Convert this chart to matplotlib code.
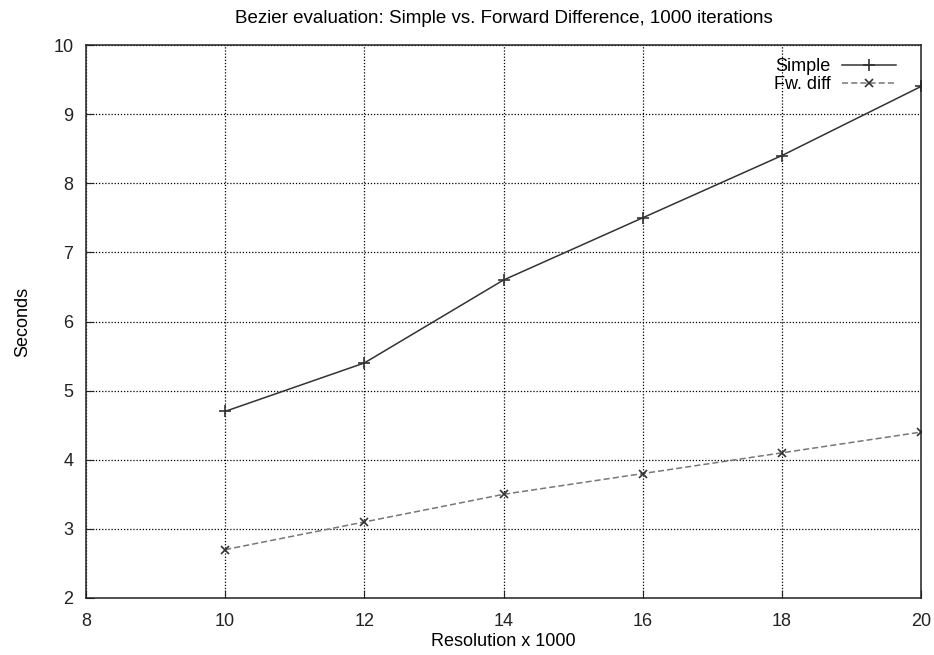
import matplotlib
matplotlib.use("Agg")
import matplotlib.pyplot as plt

plt.rcParams['font.family'] = ['Liberation Sans', 'DejaVu Sans']

resolution = [10, 12, 14, 16, 18, 20]
simple = [4.7, 5.4, 6.6, 7.5, 8.4, 9.4]
fwdiff = [2.7, 3.1, 3.5, 3.8, 4.1, 4.4]

fig = plt.figure(figsize=(9.34, 6.55), dpi=100)
ax = fig.add_axes([86 / 934, 57 / 655, 835 / 934, 553 / 655])

ax.plot(resolution, simple, color="#333333", linewidth=1.1, marker="+",
        markersize=9, markeredgewidth=1.2, label="Simple")
ax.plot(resolution, fwdiff, color="#777777", linewidth=1.1, linestyle=(0, (4, 2)),
        marker="x", markersize=6, markeredgewidth=1.2, markeredgecolor="#333333",
        label="Fw. diff")

ax.set_xlim(8, 20)
ax.set_ylim(2, 10)
ax.set_xticks(range(8, 21, 2))
ax.set_yticks(range(2, 11))
ax.grid(True, color="black", linestyle=(0, (1, 1.5)), linewidth=0.9)
ax.tick_params(direction="in", length=6, labelsize=13, colors="#222222")
ax.tick_params(axis="x", pad=11)
ax.tick_params(axis="y", pad=9)
for s in ax.spines.values():
    s.set_linewidth(1.1)
    s.set_color("#222222")

ax.set_xlabel("Resolution x 1000", fontsize=13, labelpad=2)
ax.set_ylabel("Seconds", fontsize=13, labelpad=16)
ax.set_title("Bezier evaluation: Simple vs. Forward Difference, 1000 iterations",
             fontsize=13.5, pad=16)

leg = ax.legend(loc="upper right", frameon=False, fontsize=13, markerfirst=False,
                handlelength=3.0, handletextpad=0.6, borderaxespad=0,
                bbox_to_anchor=(1 - 18 / 835, 1 - 6 / 553),
                labelspacing=0.05)
for t in leg.get_texts():
    t.set_ha("right")

fig.savefig("out.png", dpi=100, facecolor="white")
